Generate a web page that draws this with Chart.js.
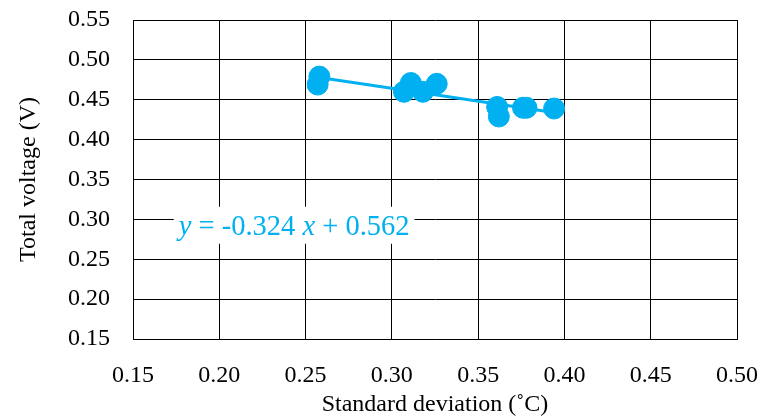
<!DOCTYPE html>
<html>
<head>
<meta charset="utf-8">
<script src="https://cdn.jsdelivr.net/npm/chart.js@4/dist/chart.umd.min.js"></script>
<style>
  html, body { margin: 0; padding: 0; background: #fff; }
  #box { width: 762px; height: 419px; }
</style>
</head>
<body>
<div id="box"><canvas id="grafico"></canvas></div>
<script>
// dados
var desvioPadrao = [0.258, 0.257, 0.307, 0.311, 0.318, 0.326, 0.361, 0.362, 0.376, 0.378, 0.394];
var tensaoTotal  = [0.479, 0.469, 0.460, 0.471, 0.460, 0.470, 0.441, 0.429, 0.440, 0.440, 0.439];
// linha de tendência (pontas)
var tendenciaX = [0.258, 0.394];
var tendenciaY = [0.478, 0.434];
var equacao = [['y', true], [' = -0.324 ', false], ['x', true], [' + 0.562', false]];

var azul = '#00B0F0';
var fonte = '"Liberation Serif", "Times New Roman", serif';

var pontos = desvioPadrao.map(function (x, i) { return { x: x, y: tensaoTotal[i] }; });
var tendencia = tendenciaX.map(function (x, i) { return { x: x, y: tendenciaY[i] }; });

// escreve a equação (com fundo branco) sobre o gráfico
var pluginEquacao = {
    id: 'equacao',
    afterDatasetsDraw: function (chart) {
        var ctx = chart.ctx;
        var px = chart.scales.x.getPixelForValue(0.1765);
        var py = chart.scales.y.getPixelForValue(0.2895);
        ctx.save();
        var larg = 0;
        equacao.forEach(function (p) {
            ctx.font = (p[1] ? 'italic ' : '') + '28.5px ' + fonte;
            larg += ctx.measureText(p[0]).width;
        });
        ctx.fillStyle = '#fff';
        ctx.fillRect(px - 5, py - 21, larg + 10, 37);
        ctx.fillStyle = azul;
        ctx.textBaseline = 'middle';
        equacao.forEach(function (p) {
            ctx.font = (p[1] ? 'italic ' : '') + '28.5px ' + fonte;
            ctx.fillText(p[0], px, py);
            px += ctx.measureText(p[0]).width;
        });
        ctx.restore();
    }
};

var config = {
    type: 'scatter',
    data: {
        datasets: [{
            label: 'Tendência',
            type: 'line',
            data: tendencia,
            borderColor: azul,
            borderWidth: 3,
            pointRadius: 0,
            fill: false,
            order: 2
        }, {
            label: 'Tensão',
            data: pontos,
            backgroundColor: azul,
            borderColor: azul,
            pointRadius: 10.5,
            pointHoverRadius: 10.5,
            order: 1
        }]
    },
    options: {
        responsive: true,
        maintainAspectRatio: false,
        animation: false,
        layout: { padding: { left: 0, right: 25, top: 20, bottom: 0 } },
        plugins: {
            legend: { display: false },
            tooltip: { enabled: false }
        },
        scales: {
            x: {
                type: 'linear',
                min: 0.15,
                max: 0.50,
                ticks: {
                    stepSize: 0.05,
                    padding: 22,
                    color: '#000',
                    font: { family: fonte, size: 24 },
                    callback: function (v) { return v.toFixed(2); }
                },
                grid: { color: '#000', lineWidth: 1, drawTicks: false },
                border: { color: '#000', width: 1 },
                title: {
                    display: true,
                    text: 'Standard deviation (˚C)',
                    color: '#000',
                    font: { family: fonte, size: 24 },
                    padding: { top: 2, bottom: 0 }
                },
                afterFit: function (s) {
                    s.height = 80;
                    s.paddingLeft = 0;
                    s.paddingRight = 0;
                }
            },
            y: {
                type: 'linear',
                min: 0.15,
                max: 0.55,
                ticks: {
                    stepSize: 0.05,
                    padding: 23,
                    color: '#000',
                    font: { family: fonte, size: 24 },
                    callback: function (v) { return v.toFixed(2); }
                },
                grid: { color: '#000', lineWidth: 1, drawTicks: false },
                border: { color: '#000', width: 1 },
                title: {
                    display: true,
                    text: 'Total voltage (V)',
                    color: '#000',
                    font: { family: fonte, size: 24 },
                    padding: { top: 14, bottom: 0 }
                },
                afterFit: function (s) {
                    s.width = 133;
                    s.paddingTop = 0;
                    s.paddingBottom = 0;
                }
            }
        }
    },
    plugins: [pluginEquacao]
};

var meuGrafico = new Chart(document.getElementById('grafico'), config);
</script>
</body>
</html>
